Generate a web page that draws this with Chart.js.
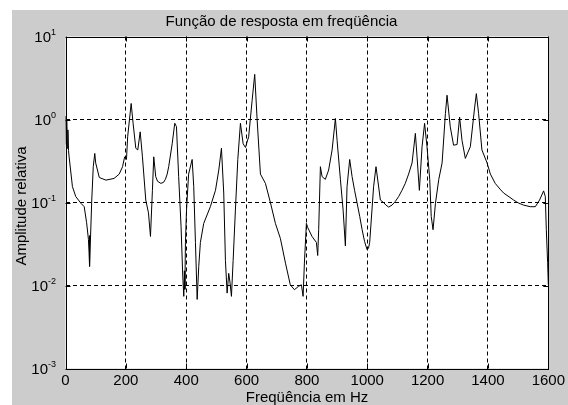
<!DOCTYPE html>
<html><head><meta charset="utf-8">
<script src="https://cdn.jsdelivr.net/npm/chart.js@4.4.1/dist/chart.umd.min.js"></script>
<style>html,body{margin:0;padding:0;background:#fff;overflow:hidden}canvas{display:block}</style>
</head><body>
<canvas id="c" width="568" height="405"></canvas>
<script>
const freqHz = [0,2,4,6,8,10,12,23,34,51,62,70,76,78,79,80.5,87,92,97,100,112,134,161,178,189,196,202,206,217.6,224,233,239.5,247.5,255,266,275,281.6,288,292.5,299,305,316,325,331,337,342,353.5,362,367.7,375,383,388.6,392,394,395.5,397.5,401,408,419.7,425,430.6,436.3,441.6,447,458,480,497,508,516.8,524.4,530,535.6,540.9,545,549.9,555.5,563,571,579.7,588.7,596.3,607,618.5,627,635,646,662.5,679,695.6,712,729,745,758.6,772.8,781.8,787.4,791.7,798.3,802.6,817,831.5,835.8,839,844.7,850.3,861,872,883.5,894.4,900,911,920,927.5,933,941.8,949.7,958,966,975,983,991,999.4,1004,1008,1021,1029,1043.5,1054,1062,1071,1082,1093,1104,1115,1126,1137,1148.5,1159.4,1165,1172.7,1181.6,1190,1198,1207,1212,1218,1226,1237,1248,1259,1264.4,1275,1286,1297.6,1306,1314,1325,1341.6,1356,1361.5,1369,1380,1397,1408,1424,1440,1452,1470,1485,1500,1518,1540,1557,1571,1584.4,1590,1593.4,1597.7,1600];
const amplitude = [1.1,0.5,1.0,0.45,0.75,0.42,0.355,0.155,0.118,0.098,0.089,0.057,0.036,0.025,0.04,0.017,0.107,0.27,0.39,0.30,0.20,0.186,0.195,0.22,0.27,0.355,0.33,0.62,1.56,0.9,0.45,0.43,0.71,0.355,0.107,0.075,0.039,0.14,0.355,0.205,0.18,0.17,0.175,0.19,0.22,0.27,0.51,0.9,0.82,0.205,0.051,0.013,0.0074,0.015,0.009,0.033,0.081,0.22,0.33,0.155,0.033,0.0068,0.017,0.033,0.056,0.089,0.14,0.246,0.45,0.13,0.020,0.0081,0.014,0.011,0.0074,0.020,0.081,0.33,0.9,0.51,0.46,0.62,1.7,3.5,1.0,0.22,0.17,0.1,0.056,0.037,0.0186,0.0102,0.0089,0.0098,0.0102,0.0074,0.0186,0.056,0.05,0.039,0.033,0.023,0.047,0.27,0.205,0.19,0.246,0.43,1.03,0.56,0.19,0.081,0.03,0.155,0.33,0.205,0.14,0.1,0.068,0.047,0.034,0.027,0.028,0.033,0.155,0.27,0.107,0.1,0.093,0.088,0.093,0.103,0.118,0.14,0.17,0.22,0.30,0.68,0.355,0.14,0.47,0.9,0.47,0.19,0.068,0.047,0.098,0.19,0.30,1.18,1.96,0.82,0.49,0.5,1.07,0.56,0.34,0.47,1.41,2.05,1.18,0.43,0.30,0.22,0.17,0.145,0.13,0.117,0.107,0.099,0.093,0.089,0.089,0.107,0.138,0.118,0.047,0.019,0.0102];
const xTickValues = [0,200,400,600,800,1000,1200,1400,1600];
const yTickExponents = [-3,-2,-1,0,1];
const titleText = 'Função de resposta em freqüência';
const xLabelText = 'Freqüência em Hz';
const yLabelText = 'Amplitude relativa';

const FONT = '"Liberation Sans", Arial, Helvetica, sans-serif';

const matlabPlugin = {
  id: 'matlab',
  beforeDraw(chart) {
    const {ctx, chartArea: a} = chart;
    ctx.save();
    ctx.fillStyle = '#ffffff';
    ctx.fillRect(0, 0, chart.width, chart.height);
    ctx.fillStyle = '#cccccc';
    ctx.fillRect(12, 10, chart.width - 12, chart.height - 10);
    ctx.fillStyle = '#ffffff';
    ctx.fillRect(a.left, a.top, a.right - a.left, a.bottom - a.top);
    ctx.restore();
  },
  afterDraw(chart) {
    const {ctx, chartArea: a} = chart;
    const xs = chart.scales.x, ys = chart.scales.y;
    ctx.save();
    ctx.strokeStyle = '#000';
    ctx.lineWidth = 1;
    ctx.setLineDash([]);
    ctx.strokeRect(Math.round(a.left) + 0.5, Math.round(a.top) + 0.5,
      Math.round(a.right) - Math.round(a.left), Math.round(a.bottom) - Math.round(a.top));
    ctx.beginPath();
    xTickValues.forEach(v => {
      const px = Math.round(xs.getPixelForValue(v)) + 0.5;
      ctx.moveTo(px, a.bottom); ctx.lineTo(px, a.bottom - 5);
      ctx.moveTo(px, a.top); ctx.lineTo(px, a.top + 5);
    });
    yTickExponents.forEach(e => {
      const py = Math.round(ys.getPixelForValue(Math.pow(10, e))) + 0.5;
      ctx.moveTo(a.left, py); ctx.lineTo(a.left + 5, py);
      ctx.moveTo(a.right, py); ctx.lineTo(a.right - 5, py);
    });
    ctx.stroke();
    ctx.fillStyle = '#000';
    ctx.textBaseline = 'alphabetic';
    yTickExponents.forEach(e => {
      const py = ys.getPixelForValue(Math.pow(10, e));
      const exp = String(e);
      ctx.font = '9px ' + FONT;
      const ew = ctx.measureText(exp).width;
      const right = 56;
      ctx.textAlign = 'left';
      ctx.fillText(exp, right - ew, py - 2);
      ctx.font = '15px ' + FONT;
      ctx.textAlign = 'right';
      ctx.fillText('10', right - ew, py + 5.4);
    });
    ctx.font = '15px ' + FONT;
    ctx.textAlign = 'center';
    ctx.fillText(titleText, 281.5, 25.5);
    ctx.fillText(xLabelText, 307, 402);
    ctx.translate(26, 206);
    ctx.rotate(-Math.PI / 2);
    ctx.fillText(yLabelText, 0, 0);
    ctx.restore();
  }
};

const edgeColor = (ctx, n) => (ctx.index === 0 || ctx.index === n - 1) ? 'rgba(0,0,0,0)' : '#000';

new Chart(document.getElementById('c'), {
  type: 'line',
  data: {
    datasets: [{
      data: freqHz.map((f, i) => ({x: f, y: amplitude[i]})),
      borderColor: '#000',
      borderWidth: 1,
      pointRadius: 0,
      tension: 0,
      fill: false
    }]
  },
  options: {
    responsive: false,
    animation: false,
    devicePixelRatio: 1,
    layout: {padding: {left: 0, top: 36.5, right: 19.5, bottom: 0}},
    plugins: {legend: {display: false}, title: {display: false}, tooltip: {enabled: false}},
    scales: {
      x: {
        type: 'linear',
        min: 0, max: 1600,
        afterBuildTicks: s => { s.ticks = xTickValues.map(v => ({value: v})); },
        afterFit: s => { s.height = 36.5; },
        grid: {color: c => edgeColor(c, xTickValues.length), lineWidth: 1, drawTicks: false},
        border: {display: false, dash: [4, 3]},
        ticks: {color: '#000', padding: 3, maxRotation: 0, autoSkip: false,
          font: {family: FONT, size: 15}, callback: v => String(v)}
      },
      y: {
        type: 'logarithmic',
        min: 0.001, max: 10,
        afterBuildTicks: s => { s.ticks = yTickExponents.map(e => ({value: Math.pow(10, e)})); },
        afterFit: s => { s.width = 65.5; },
        grid: {color: c => edgeColor(c, yTickExponents.length), lineWidth: 1, drawTicks: false},
        border: {display: false, dash: [4, 3]},
        ticks: {display: false}
      }
    }
  },
  plugins: [matlabPlugin]
});
</script>
</body></html>
